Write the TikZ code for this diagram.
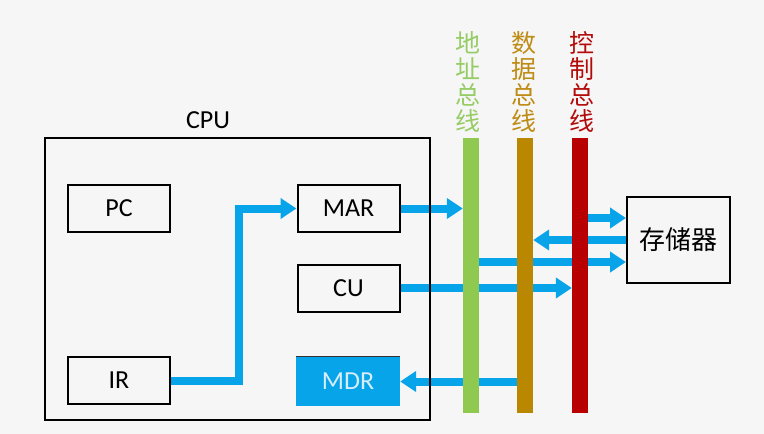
\documentclass[tikz,border=0pt]{standalone}
\usepackage{fontspec}
\setmainfont{Carlito}
\newfontfamily\cjk{Noto Sans CJK SC}
\usetikzlibrary{arrows.meta}
\definecolor{bg}{RGB}{246,246,247}
\definecolor{arrowblue}{RGB}{8,164,234}
\definecolor{gbus}{RGB}{143,201,79}
\definecolor{bbus}{RGB}{185,136,0}
\definecolor{rbus}{RGB}{184,0,0}
\definecolor{gtext}{RGB}{150,204,100}
\definecolor{btext}{RGB}{190,140,20}
\definecolor{rtext}{RGB}{180,10,10}
\definecolor{mdrtext}{RGB}{215,238,250}
\tikzset{
  reg/.style={draw=black, line width=2pt, minimum width=102pt, minimum height=47pt, font=\fontsize{26}{26}\selectfont, inner sep=0pt},
  busbar/.style={minimum width=16pt, minimum height=275pt, inner sep=0pt, anchor=north},
  flow/.style={draw=arrowblue, line width=8pt, -{Triangle[width=20pt,length=16pt]}},
  buslabel/.style={font=\cjk\fontsize{25}{26}\selectfont, align=center, inner sep=0pt, anchor=north}
}
\begin{document}
\begin{tikzpicture}[x=1pt,y=-1pt]
\useasboundingbox (0,0) rectangle (764,434);
\fill[bg] (0,0) rectangle (764,434);
% nodes (positions)
\node[minimum width=385pt, minimum height=282pt, inner sep=0pt] (cpu) at (237.5,279) {};
\node[font=\fontsize{26}{26}\selectfont] (cpulabel) at (208,120) {CPU};
\node[reg] (pc) at (119,208.5) {PC};
\node[reg] (mar) at (348.5,208.5) {MAR};
\node[reg] (cu) at (348.5,288) {CU};
\node[reg] (ir) at (119,380.5) {IR};
\node[fill=arrowblue, minimum width=104pt, minimum height=49pt, inner sep=0pt, font=\fontsize{26}{26}\selectfont, text=mdrtext] (mdr) at (348,381.5) {MDR};
\node[draw=black, line width=2pt, minimum width=103pt, minimum height=86pt, inner sep=0pt, font=\cjk\fontsize{26}{26}\selectfont] (mem) at (678.5,240) {存储器};
\node[busbar] (gb) at (471,138) {};
\node[busbar] (bb) at (525,138) {};
\node[busbar] (rb) at (580,138) {};
\node[buslabel, text=gtext] (gl) at (468,31) {地\\址\\总\\线};
\node[buslabel, text=btext] (bl) at (524,31) {数\\据\\总\\线};
\node[buslabel, text=rtext] (rl) at (582,31) {控\\制\\总\\线};
\coordinate (bend) at (239,0);
% arrows
\draw[flow] (ir.east) -- (ir.east -| bend) -- (mar.west -| bend) -- (mar.west);
\draw[flow] (mar.east) -- (mar.east -| gb.west);
\draw[flow] (cu.east) -- (cu.east -| rb.west);
\draw[flow] (mdr.east -| bb.west) -- (mdr.east);
\draw[flow] ([yshift=22pt]mem.west -| rb.east) -- ([yshift=22pt]mem.west);
\draw[flow] (mem.west) -- (mem.west -| bb.east);
\draw[flow] ([yshift=-22pt]mem.west -| gb.east) -- ([yshift=-22pt]mem.west);
% foreground
\draw[black, line width=2pt] (cpu.north west) rectangle (cpu.south east);
\draw[black!80, line width=0.8pt] (mdr.north west) -- (mdr.north east);
\fill[gbus] (gb.north west) rectangle (gb.south east);
\fill[bbus] (bb.north west) rectangle (bb.south east);
\fill[rbus] (rb.north west) rectangle (rb.south east);
\end{tikzpicture}
\end{document}
